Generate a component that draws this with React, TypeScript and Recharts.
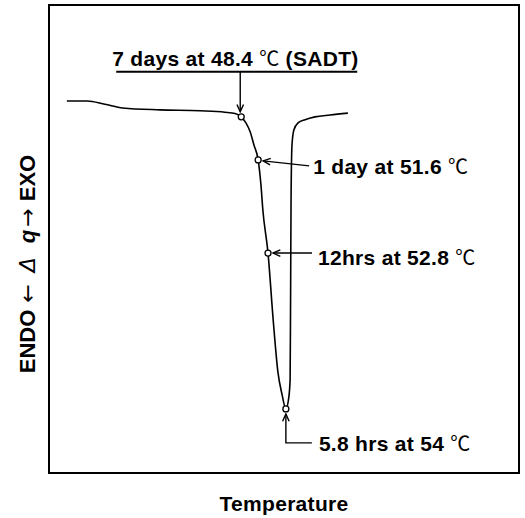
import React from 'react';
import { ComposedChart, Line, Scatter, XAxis, YAxis, ReferenceArea } from 'recharts';

// DSC-like trace (arbitrary units): temperature (x) and heat flow Δq (y)
const temperature = [3.8, 8.1, 11.9, 15.7, 23.6, 32.1, 37.4, 39.6, 40.9, 41.9, 42.8, 43.6, 44.5, 45.1, 45.5, 46.6, 47.7, 48.7, 49.6, 50.4, 51.0, 51.3, 51.4, 51.5, 51.7, 52.1, 53.0, 54.5, 56.6, 59.8, 63.6];
const heatFlow = [79.5, 79.5, 78.8, 78.0, 77.6, 77.4, 77.1, 76.8, 76.1, 74.8, 72.9, 70.1, 66.9, 61.5, 56.2, 47.0, 32.7, 21.6, 16.7, 13.7, 16.0, 19.9, 37.0, 58.3, 70.1, 73.3, 74.8, 75.5, 76.1, 76.5, 76.9];

// annotated points
const markerTemperature = [40.9, 44.5, 46.6, 50.4];
const markerHeatFlow = [76.1, 66.9, 47.0, 13.7];
const markerLabels = ['7 days at 48.4', '1 day at 51.6', '12hrs at 52.8', '5.8 hrs at 54'];
const markerSuffix = ['(SADT)', '', '', ''];
const degreeSign = '℃';

const xAxisTitle = 'Temperature';
const yAxisEndo = 'ENDO';
const yAxisExo = 'EXO';

const curve = temperature.map((t, i) => ({ t, q: heatFlow[i] }));
const markers = markerTemperature.map((t, i) => ({ t, q: markerHeatFlow[i], idx: i }));

const FONT = '"Liberation Sans", Arial, Helvetica, sans-serif';
const CJK = '"Noto Sans CJK JP", "Noto Sans CJK SC", sans-serif';
const SYM = '"DejaVu Sans", sans-serif';

function chevron(tx: number, ty: number, fx: number, fy: number, len = 8, ang = 0.42) {
  const a = Math.atan2(fy - ty, fx - tx);
  const x1 = tx + len * Math.cos(a + ang);
  const y1 = ty + len * Math.sin(a + ang);
  const x2 = tx + len * Math.cos(a - ang);
  const y2 = ty + len * Math.sin(a - ang);
  return `M${x1},${y1} L${tx},${ty} L${x2},${y2}`;
}

function Annot({ x, y, idx }: { x: number; y: number; idx: number }) {
  const label = markerLabels[idx];
  const suffix = markerSuffix[idx];
  return (
    <text x={x} y={y} fontFamily={FONT} fontWeight="bold" fontSize={21} letterSpacing={0.3} fill="#000">
      <tspan>{label + ' '}</tspan>
      <tspan fontFamily={CJK} fontWeight="normal" fontSize={20}>{degreeSign}</tspan>
      {suffix ? <tspan>{' ' + suffix}</tspan> : null}
    </text>
  );
}

function MarkerShape(props: any) {
  const { cx, cy, payload } = props;
  if (cx == null || cy == null) return null;
  const idx = payload.idx;
  const s = { stroke: '#000', strokeWidth: 1.4, fill: 'none' };
  let extra: React.ReactNode = null;
  if (idx === 0) {
    const uy = cy - 45;
    extra = (
      <g>
        <Annot x={cx - 129} y={cy - 51} idx={idx} />
        <line x1={cx - 125} x2={cx + 116} y1={uy} y2={uy} stroke="#000" strokeWidth={2} />
        <line x1={cx - 1} x2={cx - 1} y1={uy} y2={cy - 5} {...s} />
        <path d={chevron(cx - 1, cy - 5, cx - 1, uy)} {...s} />
      </g>
    );
  } else if (idx === 1) {
    const tx = cx + 5, ty = cy + 1, ex = cx + 51, ey = cy + 6;
    extra = (
      <g>
        <line x1={tx} y1={ty} x2={ex} y2={ey} {...s} />
        <path d={chevron(tx, ty, ex, ey)} {...s} />
        <Annot x={cx + 55} y={cy + 14} idx={idx} />
      </g>
    );
  } else if (idx === 2) {
    const tx = cx + 5, ty = cy, ex = cx + 44, ey = cy;
    extra = (
      <g>
        <line x1={tx} y1={ty} x2={ex} y2={ey} {...s} />
        <path d={chevron(tx, ty, ex, ey)} {...s} />
        <Annot x={cx + 50} y={cy + 12} idx={idx} />
      </g>
    );
  } else if (idx === 3) {
    const tx = cx, ty = cy + 5;
    extra = (
      <g>
        <polyline points={`${tx},${ty} ${cx},${cy + 34} ${cx + 26},${cy + 34}`} {...s} />
        <path d={chevron(tx, ty, cx, cy + 34)} {...s} />
        <Annot x={cx + 33} y={cy + 42} idx={idx} />
      </g>
    );
  }
  return (
    <g>
      {extra}
      <circle cx={cx} cy={cy} r={3} fill="#fff" stroke="#000" strokeWidth={1.3} />
    </g>
  );
}

function XTitle(props: any) {
  const vb = props.viewBox || { x: 49, y: 473, width: 470, height: 45 };
  return (
    <text x={vb.x + vb.width / 2} y={vb.y + 38} textAnchor="middle" fontFamily={FONT} fontWeight="bold" fontSize={21} letterSpacing={0.3} fill="#000">
      {xAxisTitle}
    </text>
  );
}

function YTitle(props: any) {
  const vb = props.viewBox || { x: 0, y: 5, width: 49, height: 468 };
  const x = vb.x + 35;
  const y = vb.y + vb.height / 2 + 25;
  return (
    <text x={x} y={y} transform={`rotate(-90 ${x} ${y})`} textAnchor="middle" fontFamily={FONT} fontSize={22} fill="#000">
      <tspan fontWeight="bold">{yAxisEndo}</tspan>
      <tspan fontFamily={SYM} fontWeight="normal" dx={7}>{'←'}</tspan>
      <tspan fontFamily={SYM} fontWeight="normal" fontStyle="italic" dx={12}>{'Δ'}</tspan>
      <tspan fontWeight="bold" fontStyle="italic" dx={14}>{'q'}</tspan>
      <tspan fontFamily={SYM} fontWeight="normal" dx={3}>{'→'}</tspan>
      <tspan fontWeight="bold" dx={7}>{yAxisExo}</tspan>
    </text>
  );
}

export default function App() {
  return (
    <div style={{ position: 'absolute', left: 0, top: 0, background: '#fff' }}>
      <ComposedChart width={525} height={518} margin={{ top: 5, right: 6, left: 0, bottom: 0 }}>
        <XAxis
          dataKey="t"
          type="number"
          domain={[0, 100]}
          tick={false}
          tickLine={false}
          axisLine={false}
          height={45}
          label={<XTitle />}
        />
        <YAxis
          type="number"
          domain={[0, 100]}
          tick={false}
          tickLine={false}
          axisLine={false}
          width={49}
          label={<YTitle />}
        />
        <ReferenceArea x1={0} x2={100} y1={0} y2={100} fill="none" stroke="#000" strokeWidth={2} ifOverflow="visible" />
        <Line
          data={curve}
          dataKey="q"
          type="monotone"
          stroke="#000"
          strokeWidth={1.6}
          dot={false}
          activeDot={false}
          isAnimationActive={false}
        />
        <Scatter data={markers} dataKey="q" shape={MarkerShape} isAnimationActive={false} />
      </ComposedChart>
    </div>
  );
}
